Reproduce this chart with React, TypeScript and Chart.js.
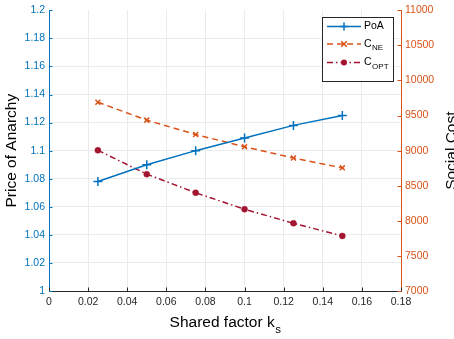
import React, { useEffect, useRef } from "react";
import { Chart, registerables } from "chart.js";

Chart.register(...registerables);

// ---- data ----
const sharedFactor = [0.025, 0.05, 0.075, 0.1, 0.125, 0.15];
const poaValues = [1.078, 1.09, 1.1, 1.109, 1.118, 1.125];
const cneValues = [9690, 9435, 9230, 9055, 8895, 8755];
const coptValues = [9005, 8665, 8400, 8165, 7965, 7785];

const xTickValues = [0, 0.02, 0.04, 0.06, 0.08, 0.1, 0.12, 0.14, 0.16, 0.18];
const poaTickValues = [1, 1.02, 1.04, 1.06, 1.08, 1.1, 1.12, 1.14, 1.16, 1.18, 1.2];
const costTickValues = [7000, 7500, 8000, 8500, 9000, 9500, 10000, 10500, 11000];

const legendMain = ["PoA", "C", "C"];
const legendSub = ["", "NE", "OPT"];
const xTitleMain = "Shared factor k";
const xTitleSub = "s";
const leftTitle = "Price of Anarchy";
const rightTitle = "Social Cost";

const BLUE = "#0072BD";
const ORANGE = "#D95319";
const RED = "#A2142F";
const DARK = "#262626";
const FONT = "'Liberation Sans', Arial, Helvetica, sans-serif";

const fmt = (v: number) => String(+Number(v).toFixed(2));

const overlayPlugin = {
  id: "overlay",
  afterDraw(chart: any) {
    const { ctx, chartArea: ca, scales } = chart;
    const xs = scales.x, ys = scales.y, y1 = scales.y1;
    ctx.save();
    ctx.lineWidth = 1;
    // inward tick marks
    ctx.strokeStyle = DARK;
    xs.ticks.forEach((t: any) => {
      const px = Math.round(xs.getPixelForValue(t.value)) + 0.5;
      ctx.beginPath();
      ctx.moveTo(px, ca.bottom);
      ctx.lineTo(px, ca.bottom - 3.5);
      ctx.stroke();
    });
    ctx.strokeStyle = BLUE;
    ys.ticks.forEach((t: any) => {
      const py = Math.round(ys.getPixelForValue(t.value)) + 0.5;
      ctx.beginPath();
      ctx.moveTo(ca.left, py);
      ctx.lineTo(ca.left + 3.5, py);
      ctx.stroke();
    });
    ctx.strokeStyle = ORANGE;
    y1.ticks.forEach((t: any) => {
      const py = Math.round(y1.getPixelForValue(t.value)) + 0.5;
      ctx.beginPath();
      ctx.moveTo(ca.right, py);
      ctx.lineTo(ca.right - 3.5, py);
      ctx.stroke();
    });

    // axis titles
    const cy = (ca.top + ca.bottom) / 2;
    ctx.fillStyle = "#000";
    ctx.font = `15.5px ${FONT}`;
    ctx.textBaseline = "alphabetic";
    ctx.textAlign = "center";
    ctx.save();
    ctx.translate(16, cy);
    ctx.rotate(-Math.PI / 2);
    ctx.fillText(leftTitle, 0, 0);
    ctx.restore();
    ctx.save();
    ctx.translate(456, cy);
    ctx.rotate(-Math.PI / 2);
    ctx.fillText(rightTitle, 0, 0);
    ctx.restore();

    // x title with subscript
    ctx.textAlign = "left";
    ctx.font = `15.5px ${FONT}`;
    const wMain = ctx.measureText(xTitleMain).width;
    ctx.font = `11.5px ${FONT}`;
    const wSub = ctx.measureText(xTitleSub).width;
    const cx = (ca.left + ca.right) / 2;
    const x0 = cx - (wMain + wSub) / 2;
    ctx.font = `15.5px ${FONT}`;
    ctx.fillText(xTitleMain, x0, 327);
    ctx.font = `11.5px ${FONT}`;
    ctx.fillText(xTitleSub, x0 + wMain + 0.5, 333);

    // legend
    const bx = 322.5, by = 17.5, bw = 71, bh = 64;
    ctx.fillStyle = "#fff";
    ctx.fillRect(bx, by, bw, bh);
    ctx.strokeStyle = DARK;
    ctx.lineWidth = 1;
    ctx.strokeRect(bx, by, bw, bh);
    const rows = [26.5, 44, 62.5];
    const colors = [BLUE, ORANGE, RED];
    const dashes = [[], [6, 4], [6, 3, 1.5, 3]];
    chart.data.datasets.forEach((ds: any, i: number) => {
      const yy = rows[i];
      ctx.save();
      ctx.strokeStyle = colors[i];
      ctx.lineWidth = 1.5;
      ctx.setLineDash(dashes[i]);
      ctx.beginPath();
      ctx.moveTo(327, yy);
      ctx.lineTo(361, yy);
      ctx.stroke();
      ctx.restore();
      ctx.save();
      ctx.strokeStyle = colors[i];
      ctx.fillStyle = colors[i];
      ctx.lineWidth = 1.5;
      const mx = 344;
      if (i === 0) {
        ctx.beginPath();
        ctx.moveTo(mx - 4, yy); ctx.lineTo(mx + 4, yy);
        ctx.moveTo(mx, yy - 4); ctx.lineTo(mx, yy + 4);
        ctx.stroke();
      } else if (i === 1) {
        ctx.beginPath();
        ctx.moveTo(mx - 2.8, yy - 2.8); ctx.lineTo(mx + 2.8, yy + 2.8);
        ctx.moveTo(mx - 2.8, yy + 2.8); ctx.lineTo(mx + 2.8, yy - 2.8);
        ctx.stroke();
      } else {
        ctx.beginPath();
        ctx.arc(mx, yy, 3, 0, Math.PI * 2);
        ctx.fill();
      }
      ctx.restore();
      ctx.fillStyle = "#000";
      ctx.textAlign = "left";
      ctx.textBaseline = "middle";
      ctx.font = `10.5px ${FONT}`;
      ctx.fillText(legendMain[i], 364, yy);
      if (legendSub[i]) {
        const w = ctx.measureText(legendMain[i]).width;
        ctx.font = `8px ${FONT}`;
        ctx.fillText(legendSub[i], 364 + w + 0.5, yy + 4);
      }
    });
    ctx.restore();
  },
};

export default function App() {
  const ref = useRef<HTMLCanvasElement>(null);
  useEffect(() => {
    if (!ref.current) return;
    const chart = new Chart(ref.current, {
      type: "line",
      data: {
        datasets: [
          {
            label: "PoA",
            data: sharedFactor.map((x, i) => ({ x, y: poaValues[i] })),
            yAxisID: "y",
            borderColor: BLUE,
            backgroundColor: BLUE,
            borderWidth: 1.5,
            pointStyle: "cross",
            pointRadius: 4.5,
            pointBorderWidth: 1.5,
            pointBorderColor: BLUE,
            fill: false,
            tension: 0,
          },
          {
            label: "C_NE",
            data: sharedFactor.map((x, i) => ({ x, y: cneValues[i] })),
            yAxisID: "y1",
            borderColor: ORANGE,
            backgroundColor: ORANGE,
            borderWidth: 1.5,
            borderDash: [6, 4],
            pointStyle: "crossRot",
            pointRadius: 3.5,
            pointBorderWidth: 1.5,
            pointBorderColor: ORANGE,
            fill: false,
            tension: 0,
          },
          {
            label: "C_OPT",
            data: sharedFactor.map((x, i) => ({ x, y: coptValues[i] })),
            yAxisID: "y1",
            borderColor: RED,
            backgroundColor: RED,
            borderWidth: 1.5,
            borderDash: [6, 3, 1.5, 3],
            pointStyle: "circle",
            pointRadius: 3,
            pointBorderWidth: 0.5,
            pointBorderColor: RED,
            pointBackgroundColor: RED,
            fill: false,
            tension: 0,
          },
        ],
      },
      options: {
        responsive: false,
        animation: false,
        devicePixelRatio: 1,
        layout: { padding: { top: 10, left: 0, right: 0, bottom: 0 } },
        plugins: {
          legend: { display: false },
          tooltip: { enabled: false },
          title: { display: false },
        },
        scales: {
          x: {
            type: "linear",
            min: 0,
            max: 0.18,
            afterBuildTicks: (s: any) => {
              s.ticks = xTickValues.map((v) => ({ value: v }));
            },
            afterFit: (s: any) => {
              s.height = 48;
            },
            ticks: {
              callback: (v: any) => fmt(v),
              color: DARK,
              font: { family: FONT, size: 10.5 },
              padding: 5,
              maxRotation: 0,
              autoSkip: false,
            },
            grid: { color: "#ebebeb", drawTicks: false, lineWidth: 1 },
            border: { color: DARK, width: 1 },
          },
          y: {
            type: "linear",
            position: "left",
            min: 1,
            max: 1.2,
            afterBuildTicks: (s: any) => {
              s.ticks = poaTickValues.map((v) => ({ value: v }));
            },
            afterFit: (s: any) => {
              s.width = 49;
            },
            ticks: {
              callback: (v: any) => fmt(v),
              color: BLUE,
              font: { family: FONT, size: 10.5 },
              padding: 4,
              autoSkip: false,
            },
            grid: {
              color: (c: any) => (c.tick && c.tick.value >= 1.2 ? "rgba(0,0,0,0)" : "#ebebeb"),
              drawTicks: false,
              lineWidth: 1,
            },
            border: { color: BLUE, width: 1 },
          },
          y1: {
            type: "linear",
            position: "right",
            min: 7000,
            max: 11000,
            afterBuildTicks: (s: any) => {
              s.ticks = costTickValues.map((v) => ({ value: v }));
            },
            afterFit: (s: any) => {
              s.width = 53;
            },
            ticks: {
              callback: (v: any) => String(v),
              color: ORANGE,
              font: { family: FONT, size: 10.5 },
              padding: 4,
              autoSkip: false,
            },
            grid: { display: false, drawTicks: false },
            border: { color: ORANGE, width: 1 },
          },
        },
      },
      plugins: [overlayPlugin],
    });
    return () => chart.destroy();
  }, []);
  return (
    <div style={{ position: "absolute", left: 0, top: 0, width: 454, height: 339 }}>
      <canvas ref={ref} width={454} height={339} style={{ width: 454, height: 339, display: "block" }} />
    </div>
  );
}
